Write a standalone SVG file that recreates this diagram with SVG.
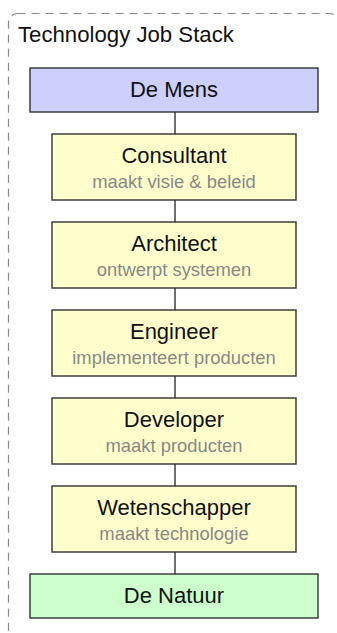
<svg xmlns="http://www.w3.org/2000/svg" width="337" height="633" viewBox="0 0 337 633">
<style>
.box{stroke:#333;stroke-width:1.4}
.yel{fill:#ffffcc}
.t{font-family:"Liberation Sans",Arial,sans-serif;font-size:22px;fill:#111;text-anchor:middle}
.s{font-family:"Liberation Sans",Arial,sans-serif;font-size:18.4px;fill:#888;text-anchor:middle}
.c{stroke:#333;stroke-width:1.4;fill:none}
</style>
<rect x="8.5" y="13.5" width="330" height="640" rx="9" fill="none" stroke="#888" stroke-width="1.2" stroke-dasharray="8,6"/>
<text x="18" y="42" font-family="Liberation Sans, Arial, sans-serif" font-size="22.2" fill="#111">Technology Job Stack</text>
<g id="connectors">
<line class="c" x1="175" y1="112" x2="175" y2="134"/>
<line class="c" x1="175" y1="200" x2="175" y2="222"/>
<line class="c" x1="175" y1="288" x2="175" y2="310"/>
<line class="c" x1="175" y1="376" x2="175" y2="398"/>
<line class="c" x1="175" y1="464" x2="175" y2="486"/>
<line class="c" x1="175" y1="552" x2="175" y2="574"/>
</g>
<g id="mens"><rect class="box" x="30" y="68" width="288" height="44" fill="#ccd0fb"/><text class="t" x="174" y="97">De Mens</text></g>
<g id="consultant"><rect class="box yel" x="52" y="134" width="244" height="66"/><text class="t" x="174" y="163">Consultant</text><text class="s" x="174" y="188">maakt visie &amp; beleid</text></g>
<g id="architect"><rect class="box yel" x="52" y="222" width="244" height="66"/><text class="t" x="174" y="251">Architect</text><text class="s" x="174" y="276">ontwerpt systemen</text></g>
<g id="engineer"><rect class="box yel" x="52" y="310" width="244" height="66"/><text class="t" x="174" y="339">Engineer</text><text class="s" x="174" y="364">implementeert producten</text></g>
<g id="developer"><rect class="box yel" x="52" y="398" width="244" height="66"/><text class="t" x="174" y="427">Developer</text><text class="s" x="174" y="452">maakt producten</text></g>
<g id="wetenschapper"><rect class="box yel" x="52" y="486" width="244" height="66"/><text class="t" x="174" y="515">Wetenschapper</text><text class="s" x="174" y="540">maakt technologie</text></g>
<g id="natuur"><rect class="box" x="30" y="574" width="288" height="44" fill="#ccffcc"/><text class="t" x="174" y="603">De Natuur</text></g>
</svg>
